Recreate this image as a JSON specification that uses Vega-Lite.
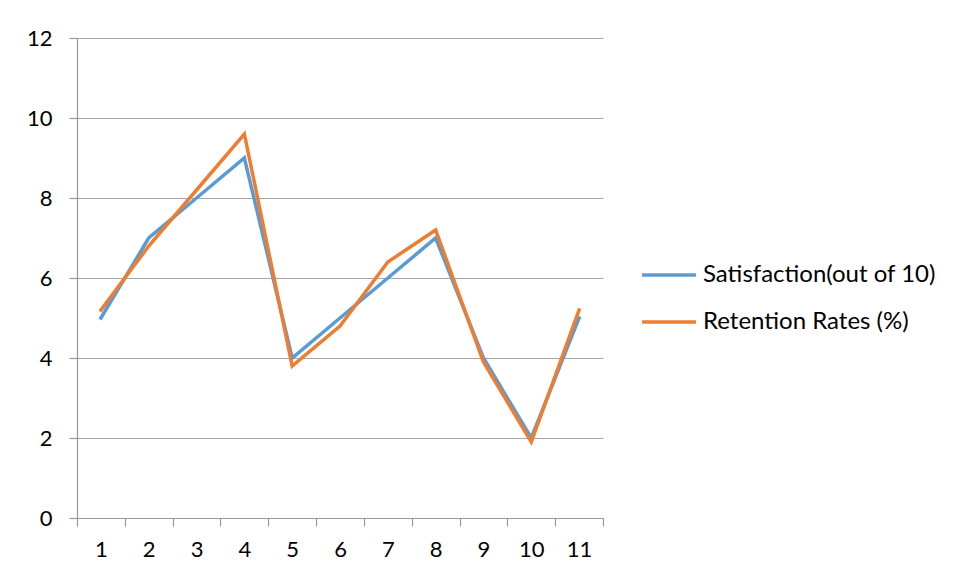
{
  "$schema": "https://vega.github.io/schema/vega-lite/v6.json",
  "width": 526,
  "height": 480,
  "autosize": {"type": "none"},
  "padding": {"left": 77, "top": 38, "right": 354, "bottom": 60},
  "background": "white",
  "config": {
    "font": "Lato",
    "view": {"stroke": null}
  },
  "data": {
    "values": [
      {"Point": 1, "Series": "Satisfaction(out of 10)", "Value": 5},
      {"Point": 2, "Series": "Satisfaction(out of 10)", "Value": 7},
      {"Point": 3, "Series": "Satisfaction(out of 10)", "Value": 8},
      {"Point": 4, "Series": "Satisfaction(out of 10)", "Value": 9},
      {"Point": 5, "Series": "Satisfaction(out of 10)", "Value": 4},
      {"Point": 6, "Series": "Satisfaction(out of 10)", "Value": 5},
      {"Point": 7, "Series": "Satisfaction(out of 10)", "Value": 6},
      {"Point": 8, "Series": "Satisfaction(out of 10)", "Value": 7},
      {"Point": 9, "Series": "Satisfaction(out of 10)", "Value": 4},
      {"Point": 10, "Series": "Satisfaction(out of 10)", "Value": 2},
      {"Point": 11, "Series": "Satisfaction(out of 10)", "Value": 5},
      {"Point": 1, "Series": "Retention Rates (%)", "Value": 5.2},
      {"Point": 2, "Series": "Retention Rates (%)", "Value": 6.8},
      {"Point": 3, "Series": "Retention Rates (%)", "Value": 8.2},
      {"Point": 4, "Series": "Retention Rates (%)", "Value": 9.6},
      {"Point": 5, "Series": "Retention Rates (%)", "Value": 3.8},
      {"Point": 6, "Series": "Retention Rates (%)", "Value": 4.8},
      {"Point": 7, "Series": "Retention Rates (%)", "Value": 6.4},
      {"Point": 8, "Series": "Retention Rates (%)", "Value": 7.2},
      {"Point": 9, "Series": "Retention Rates (%)", "Value": 3.9},
      {"Point": 10, "Series": "Retention Rates (%)", "Value": 1.9},
      {"Point": 11, "Series": "Retention Rates (%)", "Value": 5.2}
    ]
  },
  "mark": {"type": "line", "strokeWidth": 3.5, "strokeJoin": "miter", "strokeCap": "square"},
  "encoding": {
    "x": {
      "field": "Point",
      "type": "quantitative",
      "scale": {"domain": [0.5, 11.5], "nice": false, "zero": false},
      "axis": {
        "title": null,
        "format": ".1f",
        "values": [0.5, 1, 1.5, 2, 2.5, 3, 3.5, 4, 4.5, 5, 5.5, 6, 6.5, 7, 7.5, 8, 8.5, 9, 9.5, 10, 10.5, 11, 11.5],
        "labelExpr": "datum.value % 1 === 0 ? replace(datum.label, '.0', '') : ''",
        "tickOpacity": {"condition": {"test": "datum.value % 1 === 0", "value": 0}, "value": 1},
        "tickSize": 8,
        "tickColor": "#999999",
        "tickWidth": 1.2,
        "domainColor": "#999999",
        "domainWidth": 1.2,
        "grid": false,
        "labelFontSize": 22,
        "labelColor": "#000000",
        "labelPadding": 13,
        "labelFlush": false,
        "labelOverlap": false,
        "labelFont": "Lato"
      }
    },
    "y": {
      "field": "Value",
      "type": "quantitative",
      "scale": {"domain": [0, 12], "nice": false},
      "axis": {
        "title": null,
        "values": [0, 2, 4, 6, 8, 10, 12],
        "grid": true,
        "gridColor": "#a6a6a6",
        "gridWidth": 1.2,
        "tickSize": 8,
        "tickColor": "#999999",
        "tickWidth": 1.2,
        "domainColor": "#999999",
        "domainWidth": 1.2,
        "labelFontSize": 22,
        "labelColor": "#000000",
        "labelPadding": 17,
        "labelFont": "Lato"
      }
    },
    "color": {
      "field": "Series",
      "type": "nominal",
      "scale": {"domain": ["Satisfaction(out of 10)", "Retention Rates (%)"], "range": ["#5B9BD5", "#ED7D31"]},
      "legend": {
        "title": null,
        "orient": "none",
        "legendX": 563,
        "legendY": 208,
        "symbolType": "stroke",
        "symbolSize": 2900,
        "symbolStrokeWidth": 3.5,
        "labelFontSize": 24,
        "labelColor": "#000000",
        "labelFont": "Lato",
        "labelOffset": 5,
        "rowPadding": 6,
        "labelLimit": 400
      }
    }
  }
}
